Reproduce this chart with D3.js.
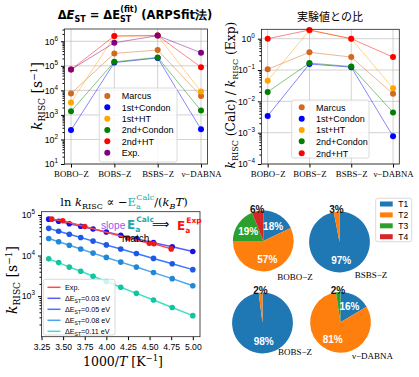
<!DOCTYPE html>
<html>
<head>
<meta charset="utf-8">
<script src="https://cdn.jsdelivr.net/npm/d3@7"></script>
<style>
  body { margin: 0; background: #fff; }
</style>
</head>
<body>
<svg width="419" height="377" font-family="Liberation Sans, Arial, sans-serif"></svg>
<script>
// ----- Data -----
const molecules = ["BOBO−Z", "BOBS−Z", "BSBS−Z", "ν−DABNA"];
const methods = ["Marcus", "1st+Condon", "1st+HT", "2nd+Condon", "2nd+HT", "Exp."];
const methodColors = ["#d2691e", "#0000ff", "#ffa500", "#008000", "#ff0000", "#800080"];
const kMarcus = [7.4e3, 3.2e5, 4.4e5, 5.9e3];
const k1stCondon = [2.4e2, 1.35e5, 2.1e5, 2.6e2];
const k1stHT = [3.2e3, 1.6e6, 1.7e6, 8.9e3];
const k2ndCondon = [1.4e3, 1.45e5, 2.2e5, 1.5e3];
const k2ndHT = [7.0e4, 1.65e6, 1.7e6, 8.8e4];
const kExp = [7.0e4, 8.7e5, 1.7e6, 3.4e5];
const kAll = [kMarcus, k1stCondon, k1stHT, k2ndCondon, k2ndHT, kExp];

// temperature dependence
const temps = [300, 290, 280, 270, 260, 250, 240, 230, 220, 210, 200];
const dEst = ["0.03", "0.05", "0.08", "0.11"];
const k003 = [79000, 70000, 61000, 52700, 45100, 38000, 31600, 25900, 20800, 16400, 12600];
const k005 = [46800, 39800, 33500, 27800, 22700, 18300, 14500, 11200, 8500, 6300, 4500];
const k008 = [26300, 21900, 17900, 14500, 11500, 9000, 6900, 5200, 3800, 2700, 1800];
const k011 = [8300, 6700, 5200, 4100, 3100, 2300, 1660, 1170, 800, 525, 330];
const kT = [k003, k005, k008, k011];
const lineColors = ["#5a5aff", "#3a78ff", "#4ca4ea", "#40e0c4"];
const dotColors = ["#1414e6", "#1f58e6", "#2088d6", "#12c4a2"];
const expInvT = [3.368, 3.495, 3.75, 4.247, 4.497, 4.55, 4.75];
const expK = [79000, 72000, 52000, 27000, 20000, 19600, 14600];

// pie shares (%)
const states = ["T1", "T2", "T3", "T4"];
const stateColors = ["#1f77b4", "#ff7f0e", "#2ca02c", "#d62728"];
const pieNames = ["BOBO−Z", "BSBS−Z", "BOBS−Z", "ν−DABNA"];
const pieShares = [
  [18, 57, 19, 6],
  [97, 3, 0, 0],
  [98, 2, 0, 0],
  [16.4, 81.2, 2.4, 0]
];

const svg = d3.select("svg");
const serif = "'DejaVu Serif', serif";
const lserif = "'Liberation Serif', serif";
const sans = "'Liberation Sans', Arial, sans-serif";
const dsans = "'DejaVu Sans', sans-serif";

// ----- Helpers -----
function powLabel(sel, size) {
  sel.each(function(d) {
    const t = d3.select(this).text(null).attr("font-size", size);
    const e = Math.round(Math.log10(d));
    t.append("tspan").text("10");
    t.append("tspan").attr("dy", -size * 0.45).attr("font-size", size * 0.72)
      .text(e < 0 ? "−" + (-e) : e);
  });
}

function logAxis(g, scale, lo, hi, size) {
  const major = d3.range(lo, hi + 1).map(e => Math.pow(10, e));
  const minor = [];
  for (let e = lo - 1; e <= hi; e++) for (let m = 2; m < 10; m++) {
    const v = m * Math.pow(10, e);
    if (v >= scale.domain()[0] && v <= scale.domain()[1]) minor.push(v);
  }
  g.append("g").call(d3.axisLeft(scale).tickValues(minor).tickSize(2).tickFormat(""))
    .call(a => a.select(".domain").remove());
  const ax = g.append("g").call(d3.axisLeft(scale).tickValues(major).tickSize(3.5).tickPadding(3));
  ax.attr("font-family", sans);
  ax.selectAll(".tick text").call(powLabel, size);
  ax.select(".domain").remove();
}

function frame(x0, y0, x1, y1) {
  svg.append("rect").attr("x", x0).attr("y", y0).attr("width", x1 - x0).attr("height", y1 - y0)
    .attr("fill", "none").attr("stroke", "#222").attr("stroke-width", 0.8);
}

function kLabel(x, y, size) {
  const t = svg.append("text").attr("transform", `translate(${x},${y}) rotate(-90)`)
    .attr("text-anchor", "middle").style("font-family", serif).attr("font-size", size);
  t.append("tspan").attr("font-style", "italic").text("k");
  t.append("tspan").attr("dy", 3).attr("font-size", size * 0.65).text("RISC");
  return t;
}

function invUnit(t, size) {
  t.append("tspan").attr("dy", -3).text(" [s");
  t.append("tspan").attr("dy", -5).attr("font-size", size * 0.65).text("−1");
  t.append("tspan").attr("dy", 5).text("]");
}

// ----- Category panels -----
function catPanel(box, data, yDomain, lo, hi) {
  const x = d3.scalePoint().domain(molecules).range([box.l, box.r]).padding(0.15);
  const y = d3.scaleLog().domain(yDomain).range([box.b, box.t]);
  const g = svg.append("g");
  g.selectAll(".vg").data(molecules).join("line")
    .attr("x1", d => x(d)).attr("x2", d => x(d)).attr("y1", box.t).attr("y2", box.b)
    .attr("stroke", "#b0b0b0").attr("stroke-width", 0.8).attr("opacity", 0.7);
  g.selectAll(".hg").data(d3.range(lo, hi + 1)).join("line")
    .attr("x1", box.l).attr("x2", box.r).attr("y1", d => y(Math.pow(10, d))).attr("y2", d => y(Math.pow(10, d)))
    .attr("stroke", "#b0b0b0").attr("stroke-width", 0.8).attr("opacity", 0.7);
  logAxis(g.append("g").attr("transform", `translate(${box.l},0)`), y, lo, hi, 8.8);
  const ax = g.append("g").attr("transform", `translate(0,${box.b})`)
    .call(d3.axisBottom(x).tickSize(3.5).tickPadding(3.5));
  ax.select(".domain").remove();
  ax.attr("font-family", lserif).attr("font-size", 8.8);
  const line = d3.line().x((d, i) => x(molecules[i])).y(d => y(d));
  data.forEach((s, j) => {
    g.append("path").datum(s).attr("d", line).attr("fill", "none")
      .attr("stroke", methodColors[j]).attr("stroke-width", 0.8).attr("opacity", 0.6);
    g.selectAll(null).data(s).join("circle")
      .attr("cx", (d, i) => x(molecules[i])).attr("cy", d => y(d)).attr("r", 3)
      .attr("fill", methodColors[j]);
  });
  frame(box.l, box.t, box.r, box.b);
}

function pointLegend(x0, y0, w, h, names, colors, rows, mx, tx) {
  svg.append("rect").attr("x", x0).attr("y", y0).attr("width", w).attr("height", h).attr("rx", 2)
    .attr("fill", "#fff").attr("fill-opacity", 0.8).attr("stroke", "#d0d0d0").attr("stroke-width", 0.8);
  names.forEach((n, i) => {
    svg.append("circle").attr("cx", mx).attr("cy", rows[i]).attr("r", 3).attr("fill", colors[i]);
    svg.append("text").attr("x", tx).attr("y", rows[i] + 3.3).attr("font-size", 9).text(n);
  });
}

// Panel 1
catPanel({ l: 64.5, r: 207.5, t: 29, b: 164 }, kAll, [10, Math.pow(10, 6.5)], 1, 6);
const t1 = svg.append("text").attr("x", 135).attr("y", 19).attr("text-anchor", "middle")
  .style("font-family", dsans).attr("font-size", 11.5).attr("font-weight", "bold");
t1.append("tspan").text("Δ");
t1.append("tspan").attr("font-style", "italic").text("E");
t1.append("tspan").attr("dy", 3).attr("font-size", 8).text("ST");
t1.append("tspan").attr("dy", -3).text(" = ΔE");
t1.append("tspan").attr("dy", 3).attr("font-size", 8).text("ST");
t1.append("tspan").attr("dx", -11).attr("dy", -10).attr("font-size", 8).text("(fit)");
t1.append("tspan").attr("dy", 7).text(" (ARPSfit法)");
const yl1 = kLabel(42, 96, 14);
invUnit(yl1, 14);
pointLegend(99.3, 88, 77.7, 74, methods, methodColors, [96, 107.3, 118.7, 130, 141.3, 152.7], 107.3, 121.7);

// Panel 2: ratio to experiment
const ratios = kAll.slice(0, 5).map(s => s.map((v, i) => v / kExp[i]));
catPanel({ l: 261.4, r: 399.3, t: 29.3, b: 164 }, ratios, [1e-4, Math.pow(10, 0.3)], -4, 0);
svg.append("text").attr("x", 330).attr("y", 21).attr("text-anchor", "middle")
  .style("font-family", "'Noto Sans CJK JP', sans-serif").attr("font-size", 11).text("実験値との比");
const yl2 = kLabel(235, 95, 12.3);
yl2.append("tspan").attr("dy", -3).text(" (Calc) / ");
yl2.append("tspan").attr("font-style", "italic").text("k");
yl2.append("tspan").attr("dy", 3).attr("font-size", 8).text("RISC");
yl2.append("tspan").attr("dy", -3).text(" (Exp)");
pointLegend(291.7, 100, 77.3, 58, methods.slice(0, 5), methodColors, [107.3, 118.7, 130, 141.3, 153.3], 301.7, 316);

// ----- Panel 3: Arrhenius -----
const b3 = { l: 41.5, r: 200, t: 211.7, b: 336.7 };
const x3 = d3.scaleLinear().domain([3.25, 5.0833]).range([b3.l, b3.r]);
const y3 = d3.scaleLog().domain([100, 120500]).range([b3.b, b3.t]);
const g3 = svg.append("g");
const ax3 = g3.append("g").attr("transform", `translate(0,${b3.b})`)
  .call(d3.axisBottom(x3).tickValues(d3.range(3.25, 5.01, 0.25)).tickFormat(d3.format(".2f")).tickSize(3.5).tickPadding(3.5));
ax3.select(".domain").remove();
ax3.attr("font-family", sans).attr("font-size", 8.6);
logAxis(g3.append("g").attr("transform", `translate(${b3.l},0)`), y3, 3, 5, 8.8);
const invT = temps.map(t => 1000 / t);
const line3 = d3.line().x(d => x3(d[0])).y(d => y3(d[1]));
kT.forEach((s, j) => {
  const pts = s.map((v, i) => [invT[i], v]);
  g3.append("path").datum(pts).attr("d", line3).attr("fill", "none")
    .attr("stroke", lineColors[j]).attr("stroke-width", 1.5);
  g3.selectAll(null).data(pts).join("circle").attr("cx", d => x3(d[0])).attr("cy", d => y3(d[1]))
    .attr("r", 2.8).attr("fill", dotColors[j]);
});
const expPts = expInvT.map((v, i) => [v, expK[i]]);
g3.append("path").datum(expPts).attr("d", line3).attr("fill", "none").attr("stroke", "#ff4848").attr("stroke-width", 1.5);
g3.selectAll(null).data(expPts).join("circle").attr("cx", d => x3(d[0])).attr("cy", d => y3(d[1]))
  .attr("r", 2.8).attr("fill", "#f01818");
frame(b3.l, b3.t, b3.r, b3.b);

// title
const t3 = svg.append("text").attr("x", 124).attr("y", 206).attr("text-anchor", "middle")
  .style("font-family", serif).attr("font-size", 11.5);
t3.append("tspan").text("ln ");
t3.append("tspan").attr("font-style", "italic").text("k");
t3.append("tspan").attr("dy", 3).attr("font-size", 8).text("RISC");
t3.append("tspan").attr("dy", -3).text(" ∝ −");
t3.append("tspan").attr("fill", "#20a8a8").text("E");
t3.append("tspan").attr("fill", "#20a8a8").attr("dy", 3).attr("font-size", 8).text("a");
t3.append("tspan").attr("fill", "#20a8a8").attr("dx", -4.5).attr("dy", -9).attr("font-size", 8).text("Calc");
t3.append("tspan").attr("dy", 6).text("/(");
t3.append("tspan").attr("font-style", "italic").text("k");
t3.append("tspan").attr("font-style", "italic").attr("dy", 3).attr("font-size", 8).text("B");
t3.append("tspan").attr("font-style", "italic").attr("dy", -3).text("T");
t3.append("tspan").text(")");

// annotation
svg.append("text").attr("x", 101).attr("y", 229).attr("font-size", 10.2).attr("fill", "#9955f0").text("slope");
const an = svg.append("text").attr("x", 127).attr("y", 229).attr("font-size", 12)
  .attr("fill", "#20a8a8").attr("font-weight", "bold").style("font-family", dsans);
an.append("tspan").text("E");
an.append("tspan").attr("dy", 2.5).attr("font-size", 7.5).text("a");
an.append("tspan").attr("dx", -4).attr("dy", -10).attr("font-size", 7.5).text("Calc");
svg.append("text").attr("x", 152).attr("y", 228).attr("font-size", 12).style("font-family", dsans).text("⟹");
const an2 = svg.append("text").attr("x", 177).attr("y", 230).attr("font-size", 12)
  .attr("fill", "#ff1010").attr("font-weight", "bold").style("font-family", dsans);
an2.append("tspan").text("E");
an2.append("tspan").attr("dy", 2.5).attr("font-size", 7.5).text("a");
an2.append("tspan").attr("dx", -4).attr("dy", -10).attr("font-size", 7.5).text("Exp");
svg.append("text").attr("x", 122).attr("y", 242).attr("font-size", 10).text("match");

// axis labels
const xl3 = svg.append("text").attr("x", 123).attr("y", 366).attr("text-anchor", "middle")
  .style("font-family", serif).attr("font-size", 12.5);
xl3.append("tspan").text("1000/");
xl3.append("tspan").attr("font-style", "italic").text("T");
xl3.append("tspan").text(" [K");
xl3.append("tspan").attr("dy", -5).attr("font-size", 8.5).text("−1");
xl3.append("tspan").attr("dy", 5).text("]");
const yl3 = kLabel(17, 280, 14);
invUnit(yl3, 14);

// legend panel 3
svg.append("rect").attr("x", 43.3).attr("y", 279.3).attr("width", 71.7).attr("height", 55.7).attr("rx", 2)
  .attr("fill", "#fff").attr("fill-opacity", 0.8).attr("stroke", "#d0d0d0").attr("stroke-width", 0.8);
const leg3 = [{ c: "#ff4848", n: "Exp." }].concat(dEst.map((d, i) => ({ c: lineColors[i], n: d })));
leg3.forEach((e, i) => {
  const yy = 287.3 + i * 11;
  svg.append("line").attr("x1", 47.5).attr("x2", 60.5).attr("y1", yy).attr("y2", yy)
    .attr("stroke", e.c).attr("stroke-width", 1.5);
  const t = svg.append("text").attr("x", 65).attr("y", yy + 2.6).attr("font-size", 7.2);
  if (i === 0) t.text(e.n);
  else {
    t.append("tspan").text("ΔE");
    t.append("tspan").attr("dy", 2).attr("font-size", 5).text("ST");
    t.append("tspan").attr("dy", -2).text("=" + e.n + " eV");
  }
});

// ----- Panel 4: pies -----
const pieCenters = [[263.3, 241], [339.5, 242], [262.5, 323], [340.5, 322.3]];
const capPos = [[295, 280], [371, 278], [295, 355], [372.5, 359]];
const R = 30.4;
const pie = d3.pie().sort(null).value(d => d);
const arc = d3.arc().innerRadius(0).outerRadius(R);
pieShares.forEach((shares, k) => {
  const total = d3.sum(shares);
  const g = svg.append("g").attr("transform", `translate(${pieCenters[k]})`);
  const arcs = pie(shares);
  g.selectAll("path").data(arcs).join("path").attr("d", arc)
    .attr("fill", (d, i) => stateColors[i]);
  arcs.forEach((a, i) => {
    if (a.value <= 0) return;
    const pct = Math.round(a.value / total * 100);
    const small = pct < 10;
    const rr = small ? R * 1.08 : R * 0.6;
    const c = d3.arc().innerRadius(rr).outerRadius(rr).centroid(a);
    g.append("text").attr("x", c[0]).attr("y", c[1] + 4).attr("text-anchor", "middle")
      .attr("font-size", 10).attr("font-weight", "bold")
      .attr("fill", small ? "#111" : "#fff").text(pct + "%");
  });
  svg.append("text").attr("x", capPos[k][0]).attr("y", capPos[k][1]).attr("text-anchor", "middle")
    .style("font-family", lserif).attr("font-size", 9).text(pieNames[k]);
});
svg.append("rect").attr("x", 375.7).attr("y", 198.3).attr("width", 36).attr("height", 43.4).attr("rx", 2)
  .attr("fill", "#fff").attr("stroke", "#d0d0d0").attr("stroke-width", 0.8);
states.forEach((s, i) => {
  const yy = 204 + i * 10.9;
  svg.append("rect").attr("x", 380).attr("y", yy - 2.5).attr("width", 12.7).attr("height", 5).attr("fill", stateColors[i]);
  svg.append("text").attr("x", 398.3).attr("y", yy + 3).attr("font-size", 8.5).text(s);
});
</script>
</body>
</html>
